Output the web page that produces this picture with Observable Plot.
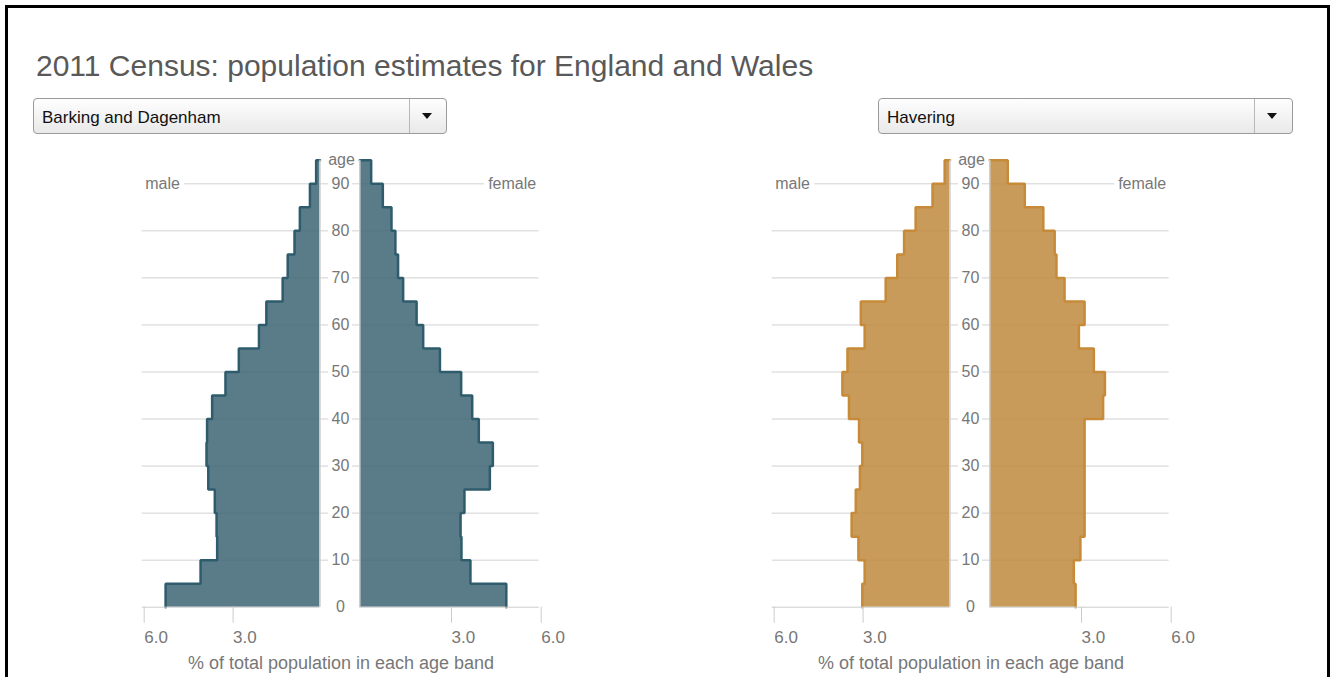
<!DOCTYPE html>
<html><head><meta charset="utf-8">
<script src="https://cdn.jsdelivr.net/npm/d3@7"></script>
<script src="https://cdn.jsdelivr.net/npm/@observablehq/plot@0.6"></script>
<style>
html,body{margin:0;padding:0;background:#fff;width:1335px;height:677px;overflow:hidden;font-family:Arial,"Liberation Sans",sans-serif;}
#frame{position:absolute;left:5px;top:5px;width:1325px;height:720px;box-sizing:border-box;border:3px solid #000;}
#title{position:absolute;left:36px;top:51px;font-size:30px;line-height:30px;color:#595959;white-space:nowrap;}
.select{position:absolute;top:98px;height:36px;box-sizing:border-box;border:1px solid #9a9a9a;border-radius:4px;background:linear-gradient(#fefefe,#e9e9e9);font-size:17px;line-height:38px;color:#111;padding-left:8px;white-space:nowrap;overflow:hidden;}
.select .sep{position:absolute;top:0;bottom:0;left:375px;width:1px;background:#b8b8b8;}
.select .arrow{position:absolute;top:14px;left:388px;width:0;height:0;border-left:5px solid transparent;border-right:5px solid transparent;border-top:6px solid #111;}
.xlabel{position:absolute;top:654px;font-size:18px;line-height:18px;color:#777;white-space:nowrap;transform:translateX(-50%);}
.plotbox{position:absolute;top:140px;}
.plotbox svg{overflow:visible;}
</style></head><body>
<div id="frame"></div>
<div id="title"></div>
<div id="root"></div>
<script>
// ---- data ----
const chartTitle = "2011 Census: population estimates for England and Wales";
const areaNames = ["Barking and Dagenham", "Havering"];
const sexLabels = ["male", "female"];
const axisTitle = "% of total population in each age band";
const ageBands = [0, 5, 10, 15, 20, 25, 30, 35, 40, 45, 50, 55, 60, 65, 70, 75, 80, 85, 90];
const ageTicks = [0, 10, 20, 30, 40, 50, 60, 70, 80, 90];
const ageDomain = [0, 95];
const xDomain = [0, 6];
const xTicks = [3, 6];
// % of total population per 5-year age band (0-4 ... 90+)
const barkingMale   = [5.21, 4.03, 3.47, 3.49, 3.55, 3.77, 3.83, 3.81, 3.64, 3.19, 2.74, 2.06, 1.81, 1.26, 1.09, 0.86, 0.68, 0.34, 0.13];
const barkingFemale = [4.90, 3.70, 3.40, 3.37, 3.50, 4.35, 4.45, 3.98, 3.76, 3.39, 2.68, 2.12, 1.90, 1.45, 1.28, 1.19, 1.06, 0.77, 0.38];
const haveringMale   = [2.96, 2.88, 3.09, 3.32, 3.18, 3.04, 2.96, 3.07, 3.41, 3.63, 3.46, 2.88, 3.01, 2.17, 1.78, 1.55, 1.16, 0.59, 0.18];
const haveringFemale = [2.87, 2.81, 3.03, 3.17, 3.17, 3.17, 3.17, 3.17, 3.79, 3.85, 3.48, 2.98, 3.17, 2.50, 2.23, 2.17, 1.79, 1.17, 0.60];

const palettes = [
  {fill: "#3d6574", stroke: "#2f5c6c"},
  {fill: "#bf8a3e", stroke: "#c68a38"}
];

document.getElementById("title").textContent = chartTitle;
const root = document.getElementById("root");
const fontFamily = "Arial, 'Liberation Sans', sans-serif";

function sidePlot(values, sexIndex, pal) {
  const isMale = sexIndex === 0;
  const rows = ageBands.map((a, i) => ({age: a, value: values[i]}));
  rows.push({age: ageDomain[1], value: values[values.length - 1]});
  const outline = rows.concat([{age: ageDomain[1], value: xDomain[0]}]);
  const marks = [
    Plot.ruleY(ageTicks.filter(d => d > ageDomain[0]), {stroke: "#d2d2d2"}),
    Plot.areaX(rows, {y: "age", x1: xDomain[0], x2: "value", curve: "step-before", fill: pal.fill, fillOpacity: 0.85}),
    Plot.lineX(outline, {y: "age", x: "value", curve: "step-before", stroke: pal.stroke, strokeWidth: 2.5, strokeLinejoin: "miter"}),
    Plot.ruleY([ageDomain[0]], {x1: xDomain[0], x2: xDomain[1], stroke: "#cccccc"}),
    Plot.ruleX([xDomain[0]], {y1: ageDomain[0], y2: ageDomain[1], stroke: "#cfcfcf", strokeWidth: 1.5}),
    Plot.axisX(xTicks, {tickSize: 16, tickPadding: 8, tickFormat: d3.format(".1f"), textAnchor: "start", dx: 2, stroke: "#cccccc", fill: "#777", fontSize: 17, label: null}),
    Plot.text([sexLabels[sexIndex]], {y: ageTicks[ageTicks.length - 1], text: d => d,
      frameAnchor: isMale ? "left" : "right", textAnchor: isMale ? "start" : "end", dx: isMale ? 3 : -3,
      fontSize: 16, fill: "#777", stroke: "white", strokeWidth: 10, paintOrder: "stroke"})
  ];
  if (!isMale) {
    marks.push(
      Plot.text(ageTicks, {y: d => d, text: d => String(d), frameAnchor: "left", dx: -12, textAnchor: "middle", fontSize: 16, fill: "#777"}),
      Plot.text(["age"], {y: ageDomain[1], text: d => d, frameAnchor: "left", dx: -11, textAnchor: "middle", fontSize: 16, fill: "#777"})
    );
  }
  return Plot.plot({
    width: isMale ? 240 : 260,
    height: 537,
    marginLeft: isMale ? 41.7 : 32,
    marginRight: isMale ? 12 : 41.3,
    marginTop: 19.8,
    marginBottom: 70.3,
    x: {domain: isMale ? [xDomain[1], xDomain[0]] : xDomain, range: isMale ? [41.7, 219.5] : [39.3, 218.7], axis: null, label: null},
    y: {domain: ageDomain, axis: null},
    style: {fontFamily, background: "transparent", overflow: "visible", color: "#777"},
    marks
  });
}

const datasets = [[barkingMale, barkingFemale], [haveringMale, haveringFemale]];
const offsets = [0, 630];
const selectLefts = [33, 878];
const selectWidths = [414, 415];

datasets.forEach((pair, k) => {
  const off = offsets[k];
  const sel = document.createElement("div");
  sel.className = "select";
  sel.style.left = selectLefts[k] + "px";
  sel.style.width = selectWidths[k] + "px";
  sel.textContent = areaNames[k];
  const sep = document.createElement("div"); sep.className = "sep"; sel.appendChild(sep);
  const arr = document.createElement("div"); arr.className = "arrow"; sel.appendChild(arr);
  root.appendChild(sel);
  const m = document.createElement("div");
  m.className = "plotbox"; m.style.left = (100 + off) + "px";
  m.appendChild(sidePlot(pair[0], 0, palettes[k]));
  root.appendChild(m);
  const f = document.createElement("div");
  f.className = "plotbox"; f.style.left = (320 + off) + "px";
  f.appendChild(sidePlot(pair[1], 1, palettes[k]));
  root.appendChild(f);
  const xl = document.createElement("div");
  xl.className = "xlabel"; xl.style.left = (341 + off) + "px";
  xl.textContent = axisTitle;
  root.appendChild(xl);
});
</script>
</body></html>
